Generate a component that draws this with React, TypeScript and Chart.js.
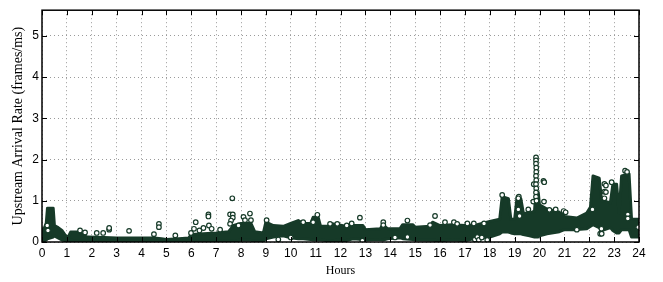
import React, { useEffect, useRef } from "react";
import { Chart, registerables } from "chart.js";

Chart.register(...registerables);

// Hour positions of the dense band and its upper / lower edges (frames/ms)
const bandHours = [0, 0.1, 0.17, 0.22, 0.45, 0.5, 0.65, 0.8, 0.95, 1.05, 1.15, 1.5, 1.7, 1.85, 2.5, 3, 3.5, 4, 4.5, 4.8, 5, 5.5, 5.9, 6, 6.5, 7, 7.5, 7.7, 8, 8.4, 8.55, 8.9, 9, 9.3, 9.7, 10, 10.3, 10.5, 10.8, 10.9, 11.1, 11.2, 11.5, 11.6, 11.9, 12.2, 12.5, 12.9, 13, 13.6, 13.7, 13.9, 14.4, 14.5, 14.9, 15, 15.6, 15.7, 16, 16.5, 17, 17.5, 18, 18.4, 18.5, 18.75, 18.85, 19, 19.1, 19.25, 19.35, 19.6, 19.8, 19.85, 19.95, 20, 20.3, 20.8, 21, 21.5, 21.9, 22.05, 22.15, 22.4, 22.5, 22.85, 22.95, 23.1, 23.2, 23.3, 23.6, 23.7, 24];
const bandTop = [0.3, 0.35, 0.45, 0.82, 0.82, 0.4, 0.35, 0.28, 0.15, 0.12, 0.24, 0.24, 0.15, 0.12, 0.11, 0.1, 0.1, 0.1, 0.1, 0.08, 0.06, 0.08, 0.1, 0.18, 0.2, 0.22, 0.25, 0.4, 0.45, 0.45, 0.25, 0.22, 0.48, 0.4, 0.38, 0.45, 0.52, 0.45, 0.45, 0.6, 0.6, 0.38, 0.38, 0.45, 0.42, 0.38, 0.4, 0.4, 0.3, 0.32, 0.42, 0.32, 0.33, 0.42, 0.42, 0.36, 0.38, 0.48, 0.4, 0.42, 0.4, 0.42, 0.5, 0.55, 1.1, 1.05, 0.55, 0.55, 1.1, 1.05, 0.7, 0.7, 0.75, 1.2, 1.2, 0.9, 0.8, 0.72, 0.62, 0.58, 0.7, 0.85, 1.6, 1.55, 1.0, 0.95, 1.4, 1.4, 0.7, 1.6, 1.65, 0.55, 0.55];
const bandBottom = [0.05, 0.03, 0.05, 0.08, 0.12, 0.15, 0.1, 0.05, 0.03, 0.02, 0.04, 0.02, 0.02, 0.02, 0.02, 0.02, 0.02, 0.02, 0.03, 0.02, 0.0, 0.01, 0.02, 0.03, 0.03, 0.03, 0.02, 0.03, 0.04, 0.04, 0.02, 0.02, 0.08, 0.12, 0.15, 0.1, 0.08, 0.08, 0.06, 0.05, 0.05, 0.05, 0.03, 0.03, 0.04, 0.03, 0.08, 0.06, 0.05, 0.06, 0.05, 0.08, 0.1, 0.08, 0.06, 0.05, 0.04, 0.04, 0.03, 0.05, 0.03, 0.1, 0.12, 0.2, 0.24, 0.24, 0.22, 0.2, 0.2, 0.2, 0.18, 0.15, 0.12, 0.12, 0.12, 0.15, 0.2, 0.25, 0.3, 0.3, 0.32, 0.38, 0.42, 0.35, 0.28, 0.35, 0.28, 0.22, 0.22, 0.3, 0.3, 0.12, 0.12];

// Isolated samples drawn as open circles
const outlierHours = [0.21, 0.24, 1.53, 1.73, 2.2, 2.46, 2.7, 2.7, 3.5, 4.5, 4.7, 4.7, 5.36, 5.99, 6.18, 6.11, 6.33, 6.49, 6.69, 6.69, 6.71, 6.82, 7.16, 7.56, 7.65, 7.67, 7.67, 7.6, 7.56, 8.1, 8.16, 8.36, 8.4, 7.9, 9.03, 9.5, 10.0, 10.5, 11.07, 10.9, 11.58, 11.87, 12.25, 12.45, 12.78, 12.88, 13.72, 13.72, 14.19, 14.69, 14.69, 15.6, 15.8, 16.2, 16.56, 16.69, 17.1, 17.36, 17.4, 17.5, 17.56, 17.68, 17.77, 17.9, 18.5, 19.17, 19.15, 19.15, 19.2, 19.55, 19.75, 19.77, 19.86, 19.86, 19.86, 19.87, 19.87, 19.86, 19.87, 19.86, 19.87, 19.86, 19.86, 19.88, 20.16, 20.19, 20.18, 20.4, 20.65, 20.97, 21.05, 21.5, 22.13, 22.44, 22.49, 22.5, 22.61, 22.61, 22.61, 22.67, 22.67, 22.9, 23.44, 23.52, 23.55, 23.55, 23.97];
const outlierRates = [0.4, 0.28, 0.28, 0.23, 0.22, 0.22, 0.3, 0.34, 0.27, 0.19, 0.44, 0.36, 0.16, 0.22, 0.48, 0.32, 0.28, 0.34, 0.67, 0.62, 0.4, 0.32, 0.3, 0.67, 1.06, 0.67, 0.59, 0.52, 0.44, 0.61, 0.53, 0.69, 0.53, 0.4, 0.53, 0.06, 0.11, 0.48, 0.66, 0.48, 0.44, 0.44, 0.4, 0.45, 0.59, 0.03, 0.48, 0.41, 0.11, 0.52, 0.12, 0.41, 0.63, 0.48, 0.48, 0.44, 0.45, 0.45, 0.06, 0.12, 0.05, 0.11, 0.45, 0.05, 1.14, 1.1, 1.06, 0.79, 0.63, 0.79, 0.98, 1.4, 2.05, 1.98, 1.9, 1.8, 1.7, 1.6, 1.5, 1.4, 1.3, 1.2, 1.1, 1.0, 1.48, 1.45, 0.98, 0.78, 0.79, 0.75, 0.72, 0.3, 0.79, 0.2, 0.32, 0.2, 1.41, 1.22, 1.06, 1.37, 1.21, 1.45, 1.73, 1.7, 0.67, 0.57, 0.36];

const xTicks = [0, 1, 2, 3, 4, 5, 6, 7, 8, 9, 10, 11, 12, 13, 14, 15, 16, 17, 18, 19, 20, 21, 22, 23, 24];
const yTicks = [0, 1, 2, 3, 4, 5];
const yMax = 5.62;

const GREEN = "#163a28";

// Fills the region between the band's upper and lower edge series, using the chart's scales
const bandFillPlugin = {
  id: "bandFill",
  beforeDatasetsDraw(chart: any) {
    const { ctx, chartArea } = chart;
    const xs = chart.scales.x;
    const ys = chart.scales.y;
    ctx.save();
    ctx.beginPath();
    ctx.rect(chartArea.left, chartArea.top, chartArea.right - chartArea.left, chartArea.bottom - chartArea.top);
    ctx.clip();
    ctx.beginPath();
    bandHours.forEach((h, i) => {
      const px = xs.getPixelForValue(h);
      const py = ys.getPixelForValue(bandTop[i]);
      if (i === 0) ctx.moveTo(px, py);
      else ctx.lineTo(px, py);
    });
    for (let i = bandHours.length - 1; i >= 0; i--) {
      ctx.lineTo(xs.getPixelForValue(bandHours[i]), ys.getPixelForValue(bandBottom[i]));
    }
    ctx.closePath();
    ctx.fillStyle = GREEN;
    ctx.fill();
    ctx.restore();
  },
};

const framePlugin = {
  id: "frameTicks",
  afterDraw(chart: any) {
    const { ctx, chartArea } = chart;
    const { left, right, top, bottom } = chartArea;
    const xs = chart.scales.x;
    const ys = chart.scales.y;
    ctx.save();
    ctx.setLineDash([]);
    ctx.strokeStyle = "#000";
    ctx.lineWidth = 1;
    ctx.beginPath();
    xTicks.forEach((t) => {
      const px = Math.round(xs.getPixelForValue(t)) + 0.5;
      ctx.moveTo(px, bottom);
      ctx.lineTo(px, bottom - 5);
      ctx.moveTo(px, top);
      ctx.lineTo(px, top + 5);
    });
    yTicks.forEach((t) => {
      const py = Math.round(ys.getPixelForValue(t)) + 0.5;
      ctx.moveTo(left, py);
      ctx.lineTo(left + 5, py);
      ctx.moveTo(right, py);
      ctx.lineTo(right - 5, py);
    });
    ctx.stroke();
    ctx.lineWidth = 1.5;
    ctx.strokeRect(left, top, right - left, bottom - top);
    ctx.restore();
  },
};

export default function App() {
  const ref = useRef<HTMLCanvasElement | null>(null);

  useEffect(() => {
    if (!ref.current) return;
    const topPts = bandHours.map((h, i) => ({ x: h, y: bandTop[i] }));
    const botPts = bandHours.map((h, i) => ({ x: h, y: bandBottom[i] }));
    const outPts = outlierHours.map((h, i) => ({ x: h, y: outlierRates[i] }));

    const chart = new Chart(ref.current, {
      type: "line",
      data: {
        datasets: [
          {
            data: outPts,
            showLine: false,
            borderColor: GREEN,
            backgroundColor: "#ffffff",
            pointStyle: "circle",
            pointRadius: 2.3,
            pointBorderWidth: 1.2,
            pointBorderColor: GREEN,
            pointBackgroundColor: "#ffffff",
            fill: false,
          } as any,
          {
            data: topPts,
            borderColor: GREEN,
            backgroundColor: GREEN,
            borderWidth: 3,
            borderJoinStyle: "round",
            pointRadius: 0,
            fill: false,
          } as any,
          {
            data: botPts,
            borderColor: GREEN,
            backgroundColor: GREEN,
            borderWidth: 3,
            borderJoinStyle: "round",
            pointRadius: 0,
            fill: false,
          } as any,
        ],
      },
      options: {
        animation: false,
        responsive: false,
        layout: { padding: { top: 2, right: 24, left: 0, bottom: 0 } },
        plugins: {
          legend: { display: false },
          tooltip: { enabled: false },
        },
        scales: {
          x: {
            type: "linear",
            min: 0,
            max: 24,
            afterFit: (s: any) => {
              s.height = 40;
            },
            afterBuildTicks: (s: any) => {
              s.ticks = xTicks.map((v) => ({ value: v }));
            },
            ticks: {
              padding: 4,
              autoSkip: false,
              maxRotation: 0,
              color: "#000",
              font: { family: "Liberation Sans", size: 12 },
              callback: (v: any) => String(v),
            },
            grid: { color: "#9a9a9a", lineWidth: 1, drawTicks: false },
            border: { display: false, dash: [1, 3] },
            title: {
              display: true,
              text: "Hours",
              color: "#000",
              font: { family: "Liberation Serif", size: 12 },
              padding: { top: 0, bottom: 4 },
            },
          },
          y: {
            type: "linear",
            min: 0,
            max: yMax,
            afterFit: (s: any) => {
              s.width = 42;
            },
            afterBuildTicks: (s: any) => {
              s.ticks = yTicks.map((v) => ({ value: v }));
            },
            ticks: {
              padding: 3,
              color: "#000",
              font: { family: "Liberation Sans", size: 12 },
              callback: (v: any) => String(v),
            },
            grid: { color: "#9a9a9a", lineWidth: 1, drawTicks: false },
            border: { display: false, dash: [1, 3] },
            title: {
              display: true,
              text: "Upstream Arrival Rate (frames/ms)",
              color: "#000",
              font: { family: "Liberation Serif", size: 14 },
              padding: { top: 10, bottom: 0 },
            },
          },
        },
      },
      plugins: [bandFillPlugin, framePlugin],
    });
    return () => chart.destroy();
  }, []);

  return (
    <div style={{ position: "fixed", left: 0, top: 0, width: 663, height: 282, background: "#fff" }}>
      <canvas ref={ref} width={663} height={282} style={{ width: 663, height: 282 }} />
    </div>
  );
}
